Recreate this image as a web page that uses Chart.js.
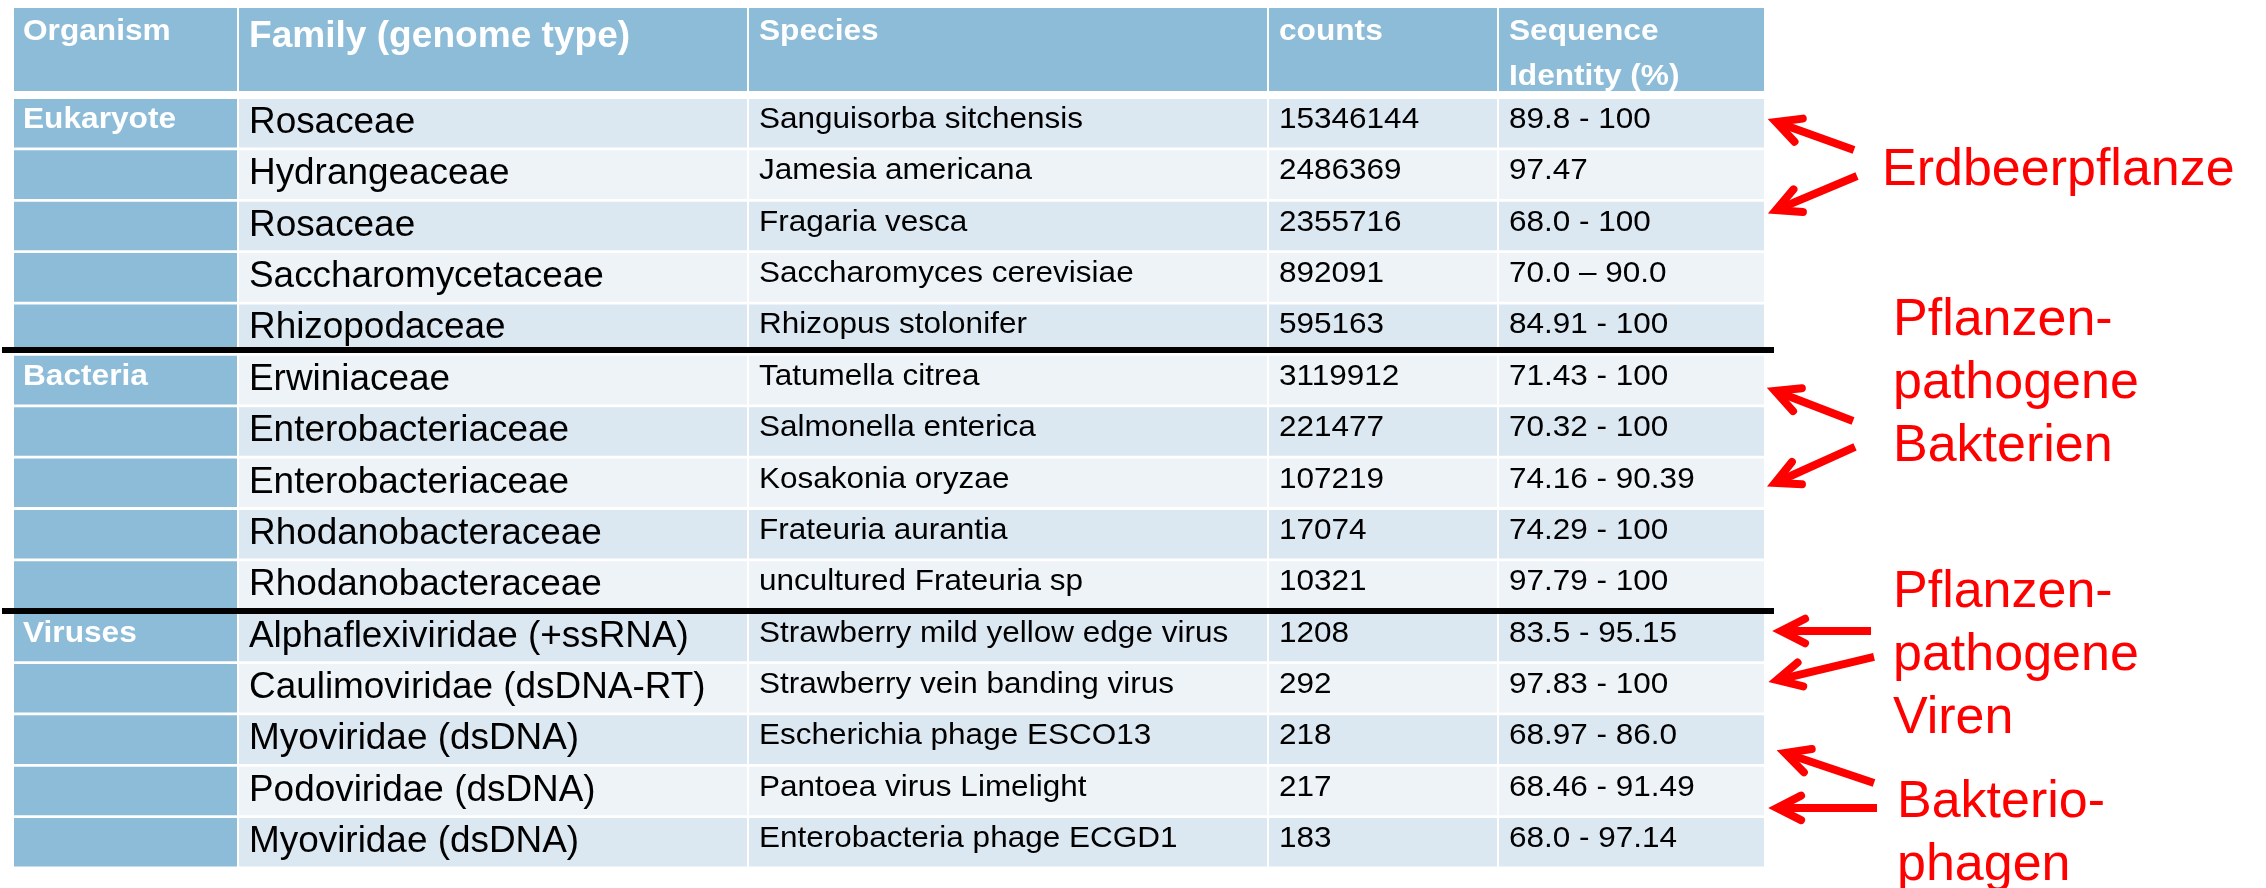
<!DOCTYPE html>
<html><head><meta charset="utf-8">
<script src="https://cdn.jsdelivr.net/npm/chart.js@4.4.1/dist/chart.umd.min.js"></script>
<style>html,body{margin:0;padding:0;background:#fff;overflow:hidden}canvas{display:block}</style>
</head><body>
<canvas id="c" width="2266" height="888" style="width:2266px;height:888px"></canvas>
<script>
// ---------- DATA ----------
const headers = ['Organism', 'Family (genome type)', 'Species', 'counts', 'Sequence\nIdentity (%)'];
const organisms = ['Eukaryote', '', '', '', '', 'Bacteria', '', '', '', '', 'Viruses', '', '', '', ''];
const families = ['Rosaceae', 'Hydrangeaceae', 'Rosaceae', 'Saccharomycetaceae', 'Rhizopodaceae',
  'Erwiniaceae', 'Enterobacteriaceae', 'Enterobacteriaceae', 'Rhodanobacteraceae', 'Rhodanobacteraceae',
  'Alphaflexiviridae (+ssRNA)', 'Caulimoviridae (dsDNA-RT)', 'Myoviridae (dsDNA)', 'Podoviridae (dsDNA)', 'Myoviridae (dsDNA)'];
const species = ['Sanguisorba sitchensis', 'Jamesia americana', 'Fragaria vesca', 'Saccharomyces cerevisiae', 'Rhizopus stolonifer',
  'Tatumella citrea', 'Salmonella enterica', 'Kosakonia oryzae', 'Frateuria aurantia', 'uncultured Frateuria sp',
  'Strawberry mild yellow edge virus', 'Strawberry vein banding virus', 'Escherichia phage ESCO13', 'Pantoea virus Limelight', 'Enterobacteria phage ECGD1'];
const counts = [15346144, 2486369, 2355716, 892091, 595163, 3119912, 221477, 107219, 17074, 10321, 1208, 292, 218, 217, 183];
const identity = ['89.8 - 100', '97.47', '68.0 - 100', '70.0 \u2013 90.0', '84.91 - 100',
  '71.43 - 100', '70.32 - 100', '74.16 - 90.39', '74.29 - 100', '97.79 - 100',
  '83.5 - 95.15', '97.83 - 100', '68.97 - 86.0', '68.46 - 91.49', '68.0 - 97.14'];
const annotationTexts = [['Erdbeerpflanze'], ['Pflanzen-', 'pathogene', 'Bakterien'], ['Pflanzen-', 'pathogene', 'Viren'], ['Bakterio-', 'phagen']];

// ---------- LAYOUT / STYLE ----------
const COL_EDGES = [14, 238, 748, 1268, 1498, 1764];
const HEADER_BAND = [-2.245, -0.629];            // header cell top/bottom in row units
const GROUP_LINES = [4.414, 9.496];               // black separators in row units
const HEADER_BLUE = 'rgb(141,188,217)';
const ROW_DARK = 'rgb(219,231,241)';
const ROW_LIGHT = 'rgb(238,243,248)';
const RED = '#ff0000';
const FONT = '"Liberation Sans", Arial, Helvetica, sans-serif';
const annotationPos = [
  {x: 1882, row: 1.20}, {x: 1893, row: 4.122}, {x: 1893, row: 9.418}, {x: 1897, row: 13.507}
];
const ANNOT_LINE = 63;
const arrows = [
  {tail: [1854, 0.52], tip: [1776, -0.025]},
  {tail: [1857, 1.026], tip: [1776, 1.688]},
  {tail: [1853, 5.797], tip: [1775, 5.212]},
  {tail: [1855, 6.30], tip: [1775, 7.003]},
  {tail: [1871, 9.885], tip: [1781, 9.885]},
  {tail: [1874, 10.39], tip: [1777, 10.839]},
  {tail: [1874, 12.846], tip: [1785, 12.26]},
  {tail: [1877, 13.33], tip: [1777, 13.33]}
];

function txt(ctx, s, x, y, size, weight, color, sx) {
  ctx.save();
  ctx.font = weight + ' ' + size + 'px ' + FONT;
  ctx.fillStyle = color;
  ctx.textBaseline = 'alphabetic';
  ctx.textAlign = 'left';
  ctx.translate(x, y);
  ctx.scale(sx, 1);
  ctx.fillText(s, 0, 0);
  ctx.restore();
}

const cellRange = (c) => [COL_EDGES[c] + (c > 0 ? 1 : 0), COL_EDGES[c + 1] - (c < 4 ? 1 : 0)];

const tablePlugin = {
  id: 'tableText',
  beforeDatasetsDraw(chart) {
    const ctx = chart.ctx, xs = chart.scales.x, ys = chart.scales.y;
    const top = ys.getPixelForValue(HEADER_BAND[0]), bot = ys.getPixelForValue(HEADER_BAND[1]);
    ctx.save();
    ctx.fillStyle = HEADER_BLUE;
    for (let c = 0; c < 5; c++) {
      const [a, b] = cellRange(c);
      const xa = xs.getPixelForValue(a), xb = xs.getPixelForValue(b);
      ctx.fillRect(xa, top, xb - xa, bot - top);
    }
    ctx.restore();
    const pads = [9, 11, 11, 11, 11];
    headers.forEach((h, c) => {
      const x = xs.getPixelForValue(COL_EDGES[c]) + pads[c];
      const lines = h.split('\n');
      lines.forEach((ln, k) => {
        if (c === 1) txt(ctx, ln, x, top + 39 + k * 45, 36, 'bold', '#fff', 1.03);
        else txt(ctx, ln, x, top + 32 + k * 45, 30, 'bold', '#fff', 1.055);
      });
    });
  },
  afterDatasetsDraw(chart) {
    const ctx = chart.ctx, xs = chart.scales.x, ys = chart.scales.y;
    const pads = [9, 11, 11, 11, 11];
    const cx = (c) => xs.getPixelForValue(COL_EDGES[c]) + pads[c];
    families.forEach((f, i) => {
      const yc = ys.getPixelForValue(i);
      if (organisms[i]) txt(ctx, organisms[i], cx(0), yc + 4.7, 30, 'bold', '#fff', 1.055);
      txt(ctx, f, cx(1), yc + 9.7, 36, 'normal', '#000', 1.025);
      txt(ctx, species[i], cx(2), yc + 4.7, 30, 'normal', '#000', 1.05);
      txt(ctx, String(counts[i]), cx(3), yc + 4.7, 30, 'normal', '#000', 1.05);
      txt(ctx, identity[i], cx(4), yc + 4.7, 30, 'normal', '#000', 1.05);
    });
    // group separators
    ctx.save();
    ctx.fillStyle = '#000';
    GROUP_LINES.forEach(r => {
      const y = ys.getPixelForValue(r);
      const xa = xs.getPixelForValue(2), xb = xs.getPixelForValue(1774);
      ctx.fillRect(xa, y - 3, xb - xa, 6);
    });
    ctx.restore();
    // annotations
    annotationTexts.forEach((lines, g) => {
      const p = annotationPos[g];
      const y0 = ys.getPixelForValue(p.row);
      lines.forEach((ln, k) => txt(ctx, ln, xs.getPixelForValue(p.x), y0 + k * ANNOT_LINE, 52, 'normal', RED, 1));
    });
    ctx.save();
    ctx.strokeStyle = RED;
    ctx.lineWidth = 8;
    arrows.forEach(a => {
      const tx = xs.getPixelForValue(a.tail[0]), ty = ys.getPixelForValue(a.tail[1]);
      const px = xs.getPixelForValue(a.tip[0]), py = ys.getPixelForValue(a.tip[1]);
      const ang = Math.atan2(ty - py, tx - px);
      ctx.lineCap = 'butt';
      ctx.beginPath(); ctx.moveTo(tx, ty); ctx.lineTo(px + Math.cos(ang) * 3, py + Math.sin(ang) * 3); ctx.stroke();
      const L = 27, h = 27 * Math.PI / 180;
      ctx.lineCap = 'round'; ctx.lineJoin = 'miter'; ctx.miterLimit = 10;
      ctx.beginPath();
      ctx.moveTo(px + Math.cos(ang - h) * L, py + Math.sin(ang - h) * L);
      ctx.lineTo(px, py);
      ctx.lineTo(px + Math.cos(ang + h) * L, py + Math.sin(ang + h) * L);
      ctx.stroke();
    });
    ctx.restore();
  }
};

new Chart(document.getElementById('c').getContext('2d'), {
  type: 'bar',
  data: {
    labels: families.map((f, i) => 'row' + i),
    datasets: headers.map((h, c) => ({
      label: h,
      data: families.map(() => cellRange(c)),
      backgroundColor: (ctx) => c === 0 ? HEADER_BLUE : (ctx.dataIndex % 2 ? ROW_LIGHT : ROW_DARK),
      borderWidth: 0,
      borderSkipped: false,
      grouped: false,
      barPercentage: 0.946,
      categoryPercentage: 1
    }))
  },
  options: {
    indexAxis: 'y',
    responsive: false,
    animation: false,
    events: [],
    layout: {padding: {top: 97.62, bottom: 20, left: 0, right: 0}},
    scales: {
      x: {type: 'linear', min: 0, max: 2266, display: false},
      y: {type: 'category', display: false, offset: true, grid: {display: false}}
    },
    plugins: {legend: {display: false}, tooltip: {enabled: false}, title: {display: false}}
  },
  plugins: [tablePlugin]
});
</script>
</body></html>
